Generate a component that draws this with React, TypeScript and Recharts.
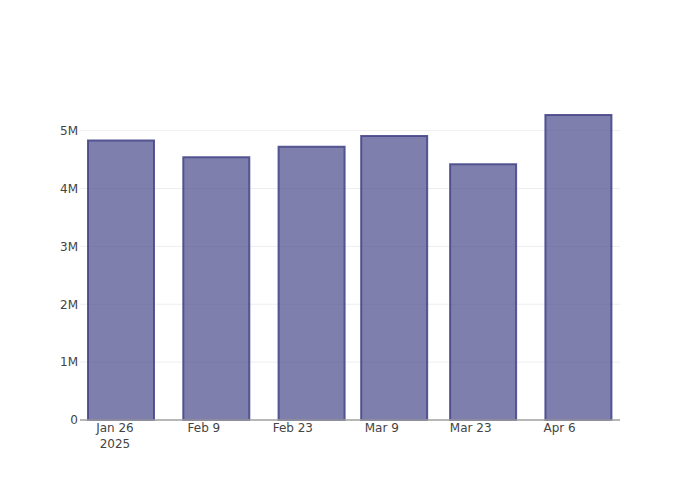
import React from "react";
import { BarChart, Bar, XAxis, YAxis, CartesianGrid } from "recharts";

// weekly-ish totals
const barDates = ["2025-01-27", "2025-02-11", "2025-02-26", "2025-03-11", "2025-03-25", "2025-04-09"];
const barValues = [4.83e6, 4.54e6, 4.72e6, 4.91e6, 4.42e6, 5.27e6];
const tickDates = ["2025-01-26", "2025-02-09", "2025-02-23", "2025-03-09", "2025-03-23", "2025-04-06"];
const yTicks = [0, 1e6, 2e6, 3e6, 4e6, 5e6];
const months = ["Jan", "Feb", "Mar", "Apr", "May", "Jun", "Jul", "Aug", "Sep", "Oct", "Nov", "Dec"];

const toTime = (d: string) => new Date(d + "T00:00:00Z").getTime();
const DAY = 86400000;

const data = barDates.map((d, i) => ({ t: toTime(d), value: barValues[i] }));
const xTicks = tickDates.map(toTime);
const xDomain = [toTime("2025-01-26") - 5.5 * DAY, toTime("2025-01-26") + 79.5 * DAY];

const font = "'DejaVu Sans', verdana, arial, sans-serif";

const DateTick = (props: any) => {
  const { x, y, payload, index } = props;
  const d = new Date(payload.value);
  const label = `${months[d.getUTCMonth()]} ${d.getUTCDate()}`;
  return (
    <g transform={`translate(${x},${y})`}>
      <text textAnchor="middle" fill="#444" fontSize={12} fontFamily={font}>
        <tspan x={0} dy={12}>{label}</tspan>
        {index === 0 && (
          <tspan x={0} dy={16}>{d.getUTCFullYear()}</tspan>
        )}
      </text>
    </g>
  );
};

const App = () => {
  return (
    <div style={{ position: "absolute", left: 0, top: 0, background: "#fff" }}>
      <BarChart
        width={700}
        height={500}
        data={data}
        margin={{ top: 100, right: 80, bottom: 50, left: 20 }}
      >
        <CartesianGrid
          vertical={false}
          stroke="#eeeeee"
          strokeWidth={1}
          horizontalValues={yTicks.slice(1)}
        />
        <XAxis
          dataKey="t"
          type="number"
          scale="linear"
          domain={xDomain}
          ticks={xTicks}
          height={30}
          tickLine={false}
          tickSize={0}
          tickMargin={0}
          axisLine={{ stroke: "#a0a0a0", strokeWidth: 1.5 }}
          tick={<DateTick />}
          interval={0}
        />
        <YAxis
          type="number"
          domain={[0, 5.53e6]}
          ticks={yTicks}
          width={60}
          axisLine={false}
          tickLine={false}
          tickSize={0}
          tickMargin={2}
          tick={{ fill: "#444", fontSize: 12, fontFamily: font }}
          tickFormatter={(v: number) => (v === 0 ? "0" : `${v / 1e6}M`)}
          interval={0}
        />
        <Bar
          dataKey="value"
          barSize={66}
          fill="rgba(72,72,139,0.7)"
          stroke="rgba(72,72,139,0.9)"
          strokeWidth={2}
          isAnimationActive={false}
        />
      </BarChart>
    </div>
  );
};

export default App;
